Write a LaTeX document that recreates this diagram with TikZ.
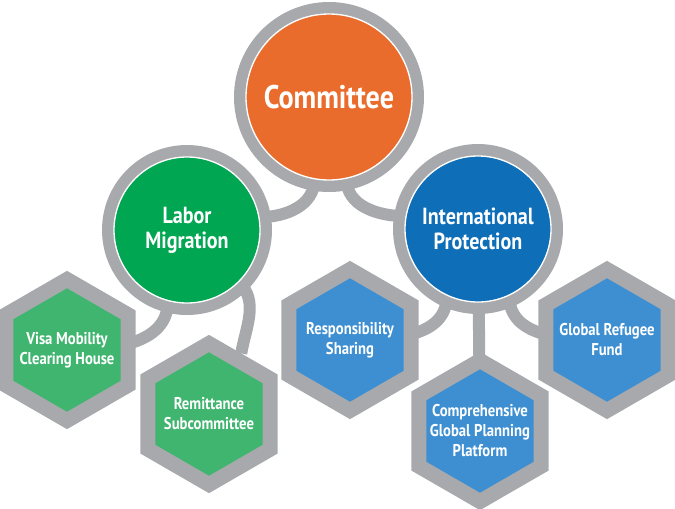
\documentclass[tikz,border=0pt]{standalone}
\usepackage{fontspec}
\newfontfamily\labelfont{PT Sans}[FakeStretch=0.86]
\usetikzlibrary{shapes.geometric,backgrounds}

\definecolor{ringgray}{HTML}{A7A9AC}
\definecolor{cmtorange}{HTML}{E96C2C}
\definecolor{labgreen}{HTML}{00A651}
\definecolor{hexgreen}{HTML}{40B56F}
\definecolor{prtblue}{HTML}{0E6EB8}
\definecolor{hexblue}{HTML}{3D8FD1}

\tikzset{every picture/.style={line width=0.75pt}}
\tikzset{
  ringnode/.style={circle, inner sep=0pt, text=white, align=center,
    preaction={draw=ringgray, line width=18pt}, draw=white, line width=1pt},
  hexnode/.style={regular polygon, regular polygon sides=6, shape border rotate=30,
    minimum size=105.75pt, inner sep=0pt, draw=ringgray, line width=11.25pt},
  hextext/.style={text=white, align=center, inner sep=0pt,
    font=\labelfont\bfseries\fontsize{12.8}{15}\selectfont},
  link/.style={draw=ringgray, line width=9pt}
}

\begin{document}
\begin{tikzpicture}[x=0.75pt,y=0.75pt,yscale=-1,xscale=1]
\useasboundingbox (0,0) rectangle (675,508);

% Circle Nodes
\node [ringnode, fill=cmtorange, minimum size=124.5pt, font=\labelfont\bfseries\fontsize{24.5}{30}\selectfont] (committee) at (329,97) {Committee};
\node [ringnode, fill=labgreen, minimum size=109.5pt, font=\labelfont\bfseries\fontsize{17.5}{19}\selectfont] (labor) at (187,230) {Labor\\Migration};
\node [ringnode, fill=prtblue, minimum size=109.5pt, font=\labelfont\bfseries\fontsize{17.5}{19}\selectfont] (protection) at (478,229) {International\\Protection};

% Hexagon Nodes
\node [hexnode, fill=hexgreen, label={[hextext]center:Visa Mobility\\Clearing House}] (visa) at (67,350) {};
\node [hexnode, fill=hexgreen, label={[hextext]center:Remittance\\Subcommittee}] (remittance) at (209,414) {};
\node [hexnode, fill=hexblue, label={[hextext]center:Responsibility\\Sharing}] (sharing) at (350,340) {};
\node [hexnode, fill=hexblue, label={[hextext]center:Comprehensive\\Global Planning\\Platform}] (planning) at (480,431) {};
\node [hexnode, fill=hexblue, label={[hextext]center:Global Refugee\\Fund}] (fund) at (607,340) {};

%Curve Lines
\begin{scope}[on background layer]
\draw [link] (committee.260) to[out=90,in=0] (labor.10);
\draw [link] (committee.282) to[out=90,in=180] (protection.170);
\draw [link] (labor.255) to[out=90,in=0] (visa.center);
\draw [link] (labor.315) to[out=45,in=-80] (remittance.62);
\draw [link] (protection.245) to[out=90,in=0] (sharing.center);
\draw [link] (protection.center) -- (planning.center);
\draw [link] (protection.295) to[out=90,in=180] (fund.center);
\end{scope}
\end{tikzpicture}
\end{document}
